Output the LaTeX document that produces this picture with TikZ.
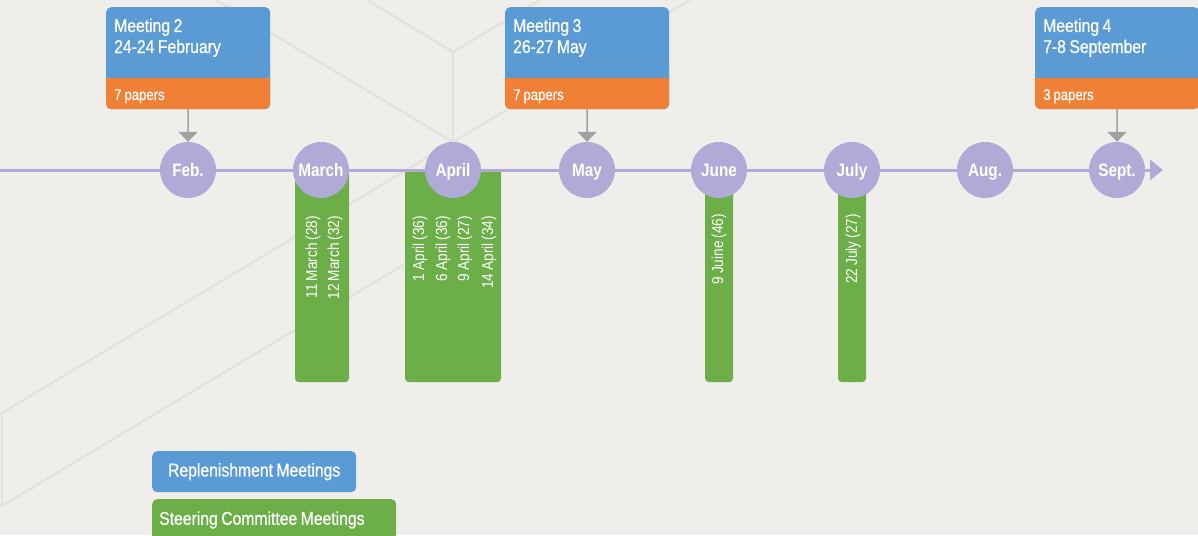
\documentclass[tikz,border=0pt]{standalone}
\usepackage{fontspec}
\setmainfont{Liberation Sans}[FakeStretch=0.85, WordSpace=0.8]
\newfontfamily\medfont{Liberation Sans}[FakeStretch=0.85, WordSpace=0.8, FakeBold=0.7]
\usetikzlibrary{arrows.meta}
\definecolor{bgC}{RGB}{239,238,234}
\definecolor{lineC}{RGB}{227,226,221}
\definecolor{blueC}{RGB}{91,155,213}
\definecolor{orangeC}{RGB}{240,128,54}
\definecolor{greenC}{RGB}{108,174,72}
\definecolor{lavC}{RGB}{175,170,214}
\definecolor{grayC}{RGB}{160,160,160}
\begin{document}
\begin{tikzpicture}[x=1pt,y=-1pt,
 month/.style={circle, fill=lavC, minimum size=56pt, inner sep=0pt, text height=13pt, text depth=0pt, text=white, font=\bfseries\fontsize{18}{18}\selectfont},
 meetbox/.style={rectangle, rounded corners=5pt, fill=blueC, minimum width=164pt, minimum height=102pt, inner sep=0pt, anchor=north west},
 meettext/.style={anchor=base west, inner sep=0pt, text=white, font=\medfont\fontsize{18.5}{21}\selectfont},
 papertext/.style={anchor=base west, inner sep=0pt, text=white, font=\medfont\fontsize{15.5}{15.5}\selectfont},
 pointer/.style={draw=grayC, line width=1.5pt, -{Triangle[width=19pt,length=10pt]}},
 barbox/.style={rectangle, rounded corners=4pt, fill=greenC, inner sep=0pt, anchor=north, minimum height=212pt},
 bartext/.style={rotate=90, anchor=east, inner sep=0pt, text=white, font=\fontsize{16}{16}\selectfont},
 bgline/.style={draw=lineC, line width=2.5pt},
 legendbox/.style={rectangle, rounded corners=5pt, inner sep=0pt, minimum height=41pt, text=white, font=\medfont\fontsize{18.5}{18.5}\selectfont, anchor=north west},
 legendtext/.style={anchor=west, inner sep=0pt, text=white, font=\medfont\fontsize{18.5}{18.5}\selectfont}
]
\useasboundingbox (0,0) rectangle (1198,535);
\fill[bgC] (0,0) rectangle (1198,535);

% background pattern
\draw[bgline] (367,0) -- (453,52) -- (540,0);
\draw[bgline] (453,52) -- (453,235);
\draw[bgline] (216,0) -- (453,142) -- (690,0);
\draw[bgline] (453,142) -- (0,414);
\draw[bgline] (453,235) -- (0,507);
\draw[bgline] (2,414) -- (2,507);

% steering committee bars
\node[barbox, minimum width=54pt] (marbar) at (322,170) {};
\node[barbox, minimum width=96pt] (aprbar) at (453,170) {};
\node[barbox, minimum width=28pt] (junbar) at (719,170) {};
\node[barbox, minimum width=28pt] (julbar) at (852,170) {};
\fill[greenC] (295,170) rectangle (349,180);
\fill[greenC] (405,170) rectangle (501,180);
\fill[greenC] (705,170) rectangle (733,180);
\fill[greenC] (838,170) rectangle (866,180);

\node[bartext] (t1) at (313,216) {11 March (28)};
\node[bartext] (t2) at (335,216) {12 March (32)};
\node[bartext] (t3) at (420,216) {1 April (36)};
\node[bartext] (t4) at (443,216) {6 April (36)};
\node[bartext] (t5) at (465,216) {9 April (27)};
\node[bartext] (t6) at (489,216) {14 April (34)};
\node[bartext] (t7) at (719,214) {9 Juine (46)};
\node[bartext] (t8) at (853,214) {22 July (27)};

% timeline
\coordinate (tlstart) at (0,170);
\coordinate (tlend) at (1163,170);
\draw[lavC, line width=3pt, -{Triangle[width=20pt,length=13pt]}] (tlstart) -- (tlend);

\node[month] (feb) at (188,170) {Feb.};
\node[month] (mar) at (321,170) {March};
\node[month] (apr) at (453,170) {April};
\node[month] (may) at (587,170) {May};
\node[month] (jun) at (719,170) {June};
\node[month] (jul) at (852,170) {July};
\node[month] (aug) at (985,170) {Aug.};
\node[month] (sep) at (1117,170) {Sept.};

% meeting 2
\node[meetbox] (m2) at (106,7) {};
\fill[orangeC, rounded corners=5pt] (106,60) rectangle (270,109);
\fill[blueC] (106,60) rectangle (270,78);
\node[meettext] (m2a) at (114,32) {Meeting 2};
\node[meettext] (m2b) at (114,53) {24-24 February};
\node[papertext] (m2c) at (114,100) {7 papers};
\draw[pointer] (m2.south) -- (feb.north);

% meeting 3
\node[meetbox] (m3) at (505,7) {};
\fill[orangeC, rounded corners=5pt] (505,60) rectangle (669,109);
\fill[blueC] (505,60) rectangle (669,78);
\node[meettext] (m3a) at (513,32) {Meeting 3};
\node[meettext] (m3b) at (513,53) {26-27 May};
\node[papertext] (m3c) at (513,100) {7 papers};
\draw[pointer] (m3.south) -- (may.north);

% meeting 4
\node[meetbox] (m4) at (1035,7) {};
\fill[orangeC, rounded corners=5pt] (1035,60) rectangle (1199,109);
\fill[blueC] (1035,60) rectangle (1199,78);
\node[meettext] (m4a) at (1043,32) {Meeting 4};
\node[meettext] (m4b) at (1043,53) {7-8 September};
\node[papertext] (m4c) at (1043,100) {3 papers};
\draw[pointer] (m4.south) -- (sep.north);

% legend
\node[legendbox, fill=blueC, minimum width=204pt] (leg1) at (152,451) {Replenishment Meetings};
\node[legendbox, fill=greenC, minimum width=244pt, minimum height=42pt] (leg2) at (152,499) {};
\node[legendtext] (leg2t) at (159,520) {Steering Committee Meetings};
\end{tikzpicture}
\end{document}
